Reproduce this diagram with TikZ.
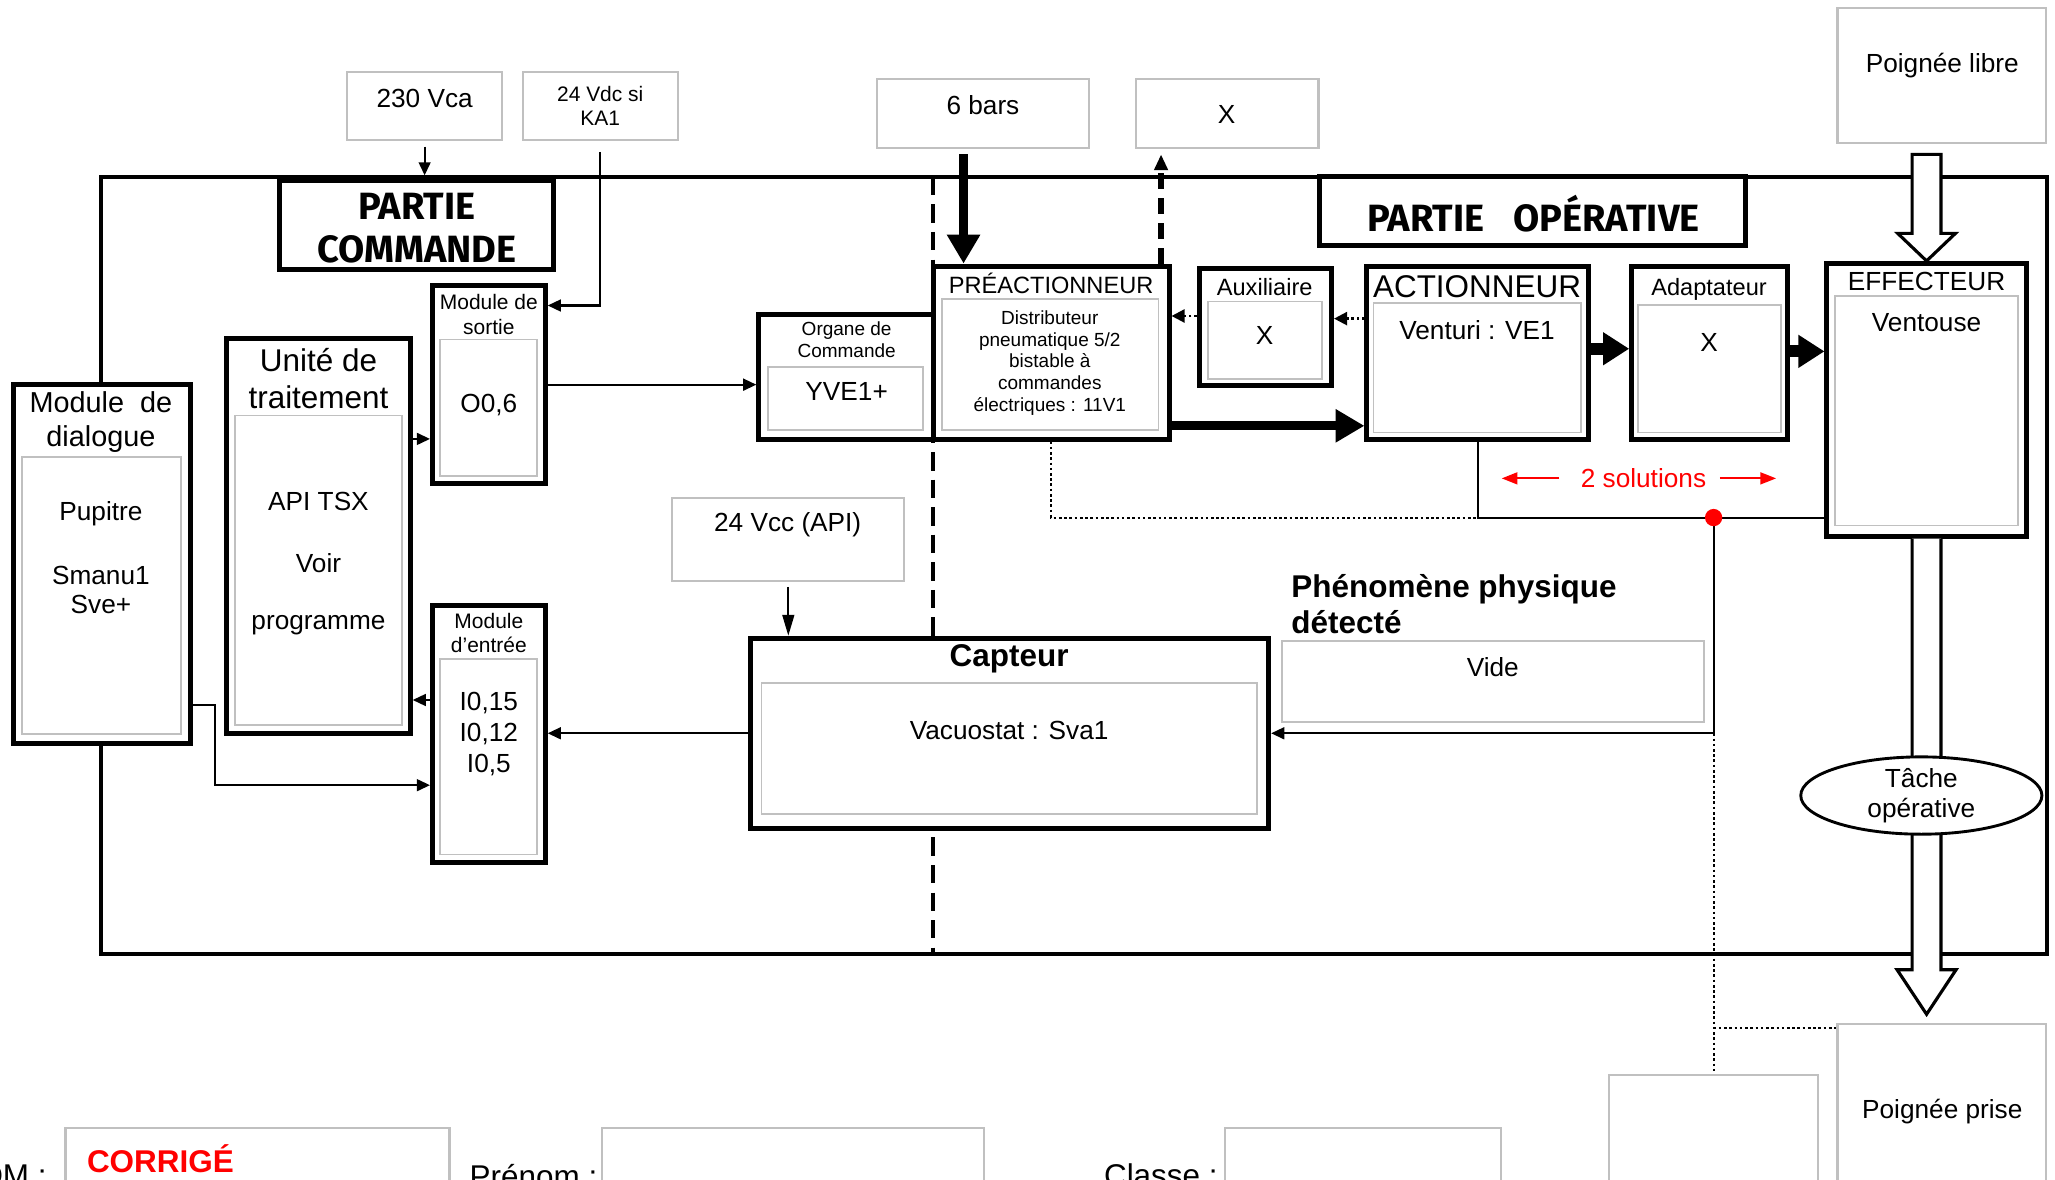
\documentclass[tikz,border=0pt]{standalone}
\usepackage{fontspec}
\setmainfont{Liberation Sans}
\newfontfamily\titlefont{Fira Sans}
\usetikzlibrary{arrows.meta, shapes.geometric, positioning, fit, calc}
\definecolor{boxgray}{RGB}{192,192,192}
\newcommand{\fsz}[2]{\fontsize{#1}{#2}\selectfont}

\begin{document}
\begin{tikzpicture}[x=0.5pt, y=-0.5pt,
    blk/.style={draw, line width=1.9pt, fill=white, inner sep=0pt},
    inbox/.style={draw=boxgray, line width=0.7pt, inner sep=0pt},
    gbox/.style={draw=boxgray, line width=0.8pt, fill=white, inner sep=0pt},
    txt/.style={inner sep=0pt, align=center, font=\fsz{10}{11.5}},
    fmid/.style={font=\fsz{9}{10.5}},
    fsmall/.style={font=\fsz{8}{9.3}},
    ftiny/.style={font=\fsz{7.25}{8.3}},
    ttl/.style={inner sep=0pt, align=center, font=\titlefont\bfseries\fsz{14.5}{16.5}},
    con/.style={line width=0.8pt, -{Triangle[length=5pt, width=4.5pt]}},
    fat/.style={line width=3.5pt, -{Triangle[length=11pt, width=12pt]}},
    fatshort/.style={line width=4.5pt, -{Triangle[length=10pt, width=12pt]}},
    dasharr/.style={line width=2pt, dash pattern=on 6pt off 3.5pt, -{Triangle[length=6pt, width=5pt]}},
    dotarr/.style={line width=0.9pt, dash pattern=on 1pt off 1pt, -{Triangle[length=5pt, width=5pt]}},
    dotline/.style={line width=0.8pt, dash pattern=on 1pt off 1pt},
    redarr/.style={red, line width=0.8pt, -{Triangle[length=6pt, width=4.5pt]}},
    hollow/.style={draw, line width=1.2pt, fill=white}]
\useasboundingbox (0,0) rectangle (1568,900);
\clip (0,0) rectangle (1568,900);

% cadre du systeme
\draw[line width=1.5pt] (77,135) rectangle (1562,728);
\draw[line width=1.7pt, dash pattern=on 7pt off 3.5pt] (712,135) -- (712,728);

% entrees / sorties exterieures
\node[gbox, fit={(265,55) (383,107)}] (vca) {};
\node[txt] at (324,75) {230 Vca};
\node[gbox, fit={(399,55) (517,107)}] (ka) {};
\node[txt, fsmall] at (458,81) {24 Vdc si\\KA1};
\node[gbox, fit={(669,60) (831,113)}] (bars) {};
\node[txt] at (750,80) {6 bars};
\node[gbox, fit={(867,60) (1006,113)}] (xout) {};
\node[txt] at (936,87) {X};
\node[gbox, fit={(1402,6) (1561,109)}] (libre) {};
\node[txt] at (1482,50) {Poignée libre};
\node[gbox, fit={(513,380) (690,443)}] (api) {};
\node[txt] at (601,400) {24 Vcc (API)};
\node[gbox, fit={(978,489) (1300,551)}] (vide) {};
\node[txt] at (1139,509) {Vide};
\node[txt, align=left, anchor=west, font=\bfseries\fsz{12}{14}] at (985,461) {Phénomène physique\\détecté};
\node[gbox, fit={(1402,781) (1561,960)}] (prise) {};
\node[txt] at (1482,848) {Poignée prise};
\node[gbox, fit={(1228,820) (1387,960)}] (vierge) {};

% titres
\node[blk, fit={(213,138) (422,206)}] (pc) {};
\node[ttl] at (318,174) {PARTIE\\COMMANDE};
\node[blk, fit={(1007,135) (1332,187)}] (po) {};
\node[ttl] at (1170,163) {PARTIE\hspace{11pt}OPÉRATIVE};

% partie commande
\node[blk, fit={(10,293) (145,567)}] (dialogue) {};
\node[inbox, fit={(17,349) (138,560)}] {};
\node[txt, font=\fsz{11}{13}] at (77,322) {Module\ \ de\\dialogue};
\node[txt] at (77,392) {Pupitre};
\node[txt, font=\fsz{10}{11}] at (77,450) {Smanu1\\Sve+};

\node[blk, fit={(173,258) (313,560)}] (traitement) {};
\node[inbox, fit={(179,317) (307,553)}] {};
\node[txt, font=\fsz{12}{14}] at (243,289) {Unité de\\traitement};
\node[txt] at (243,383) {API TSX};
\node[txt] at (243,430) {Voir};
\node[txt] at (243,477) {programme};

\node[blk, fit={(330,218) (416,369)}] (sortie) {};
\node[inbox, fit={(336,259) (410,363)}] {};
\node[txt, fsmall] at (373,240) {Module de\\sortie};
\node[txt] at (373,309) {O0,6};

\node[blk, fit={(330,462) (416,658)}] (entree) {};
\node[inbox, fit={(336,503) (410,652)}] {};
\node[txt, fsmall] at (373,483) {Module\\d’entrée};
\node[txt, font=\fsz{10}{11.75}] at (373,560) {I0,15\\I0,12\\I0,5};

\node[blk, fit={(579,240) (712,335)}] (organe) {};
\node[inbox, fit={(586,280) (704,328)}] {};
\node[txt, ftiny] at (646,259) {Organe de\\Commande};
\node[txt] at (646,299) {YVE1+};

\node[blk, fit={(573,487) (968,632)}] (capteur) {};
\node[inbox, fit={(581,521) (959,621)}] {};
\node[txt, font=\bfseries\fsz{12}{14}] at (770,503) {Capteur};
\node[txt] at (770,557) {Vacuostat : Sva1};

% partie operative
\node[blk, fit={(712,203) (892,335)}] (preact) {};
\node[inbox, fit={(719,228) (884,328)}] {};
\node[txt, fmid] at (802,216) {PRÉACTIONNEUR};
\node[txt, font=\fsz{7.25}{8.25}] at (801,277) {Distributeur\\pneumatique 5/2\\bistable à\\commandes\\électriques : 11V1};

\node[blk, fit={(915,205) (1016,294)}] (auxil) {};
\node[inbox, fit={(922,230) (1009,289)}] {};
\node[txt, fmid] at (965,219) {Auxiliaire};
\node[txt] at (965,256) {X};

\node[blk, fit={(1043,203) (1212,335)}] (action) {};
\node[inbox, fit={(1048,231) (1206,330)}] {};
\node[txt, font=\fsz{12}{14}] at (1127,219) {ACTIONNEUR};
\node[txt] at (1127,252) {Venturi : VE1};

\node[blk, fit={(1245,203) (1364,335)}] (adapt) {};
\node[inbox, fit={(1250,233) (1359,330)}] {};
\node[txt, fmid] at (1304,221) {Adaptateur};
\node[txt] at (1304,261) {X};

\node[blk, fit={(1394,201) (1546,409)}] (effect) {};
\node[inbox, fit={(1400,226) (1540,401)}] {};
\node[txt] at (1470,215) {EFFECTEUR};
\node[txt] at (1470,246) {Ventouse};

% fleches creuses (matiere d'oeuvre)
\draw[hollow] (effect.north) -- ++(-22,-21) -- ++(11,0) -- ($(libre.south -| effect.north)+(-11,8)$)
  -- ++(22,0) -- ($(effect.north)+(11,-21)$) -- ++(11,0) -- cycle;
\coordinate (tip) at ($(effect.south)+(0,363)$);
\draw[hollow] ($(effect.south)+(-11,0)$) -- ($(tip)+(-11,-34)$) -- ++(-11.5,0) -- (tip)
  -- ++(22.5,-34) -- ++(-11.5,0) -- ($(effect.south)+(11,0)$);
\node[draw, ellipse, line width=1.1pt, fill=white, minimum width=92pt, minimum height=28pt,
  inner sep=0pt, align=center, font=\fsz{10}{11.5}] (tache) at (1466,607) {Tâche\\opérative};

% liaisons partie commande
\coordinate (cmdIn) at ($(vca.south)+(0,26)$);
\draw[con, shorten <=2pt] (vca.south) -- (cmdIn);
\coordinate (kaIn) at ($(sortie.north east)+(0,17)$);
\draw[con, shorten <=4pt] (ka.south) |- (kaIn);
\coordinate (tsOut) at ($(sortie.south west)+(0,-36)$);
\draw[con] (traitement.east |- tsOut) -- (tsOut);
\coordinate (etIn) at ($(entree.north west)+(0,74)$);
\draw[con] (etIn) -- (traitement.east |- etIn);
\draw[con] (sortie.east) -- (organe.west |- sortie.east);
\coordinate (deOut) at ($(dialogue.south east)+(0,-31)$);
\coordinate (deIn) at ($(entree.north west)+(0,139)$);
\draw[con] (deOut) -- ++(17,0) |- (deIn);
\draw[con] (capteur.west) -- (entree.east |- capteur.west);
\draw[con, -{Triangle[length=8pt, width=4.5pt]}, shorten <=2pt] (api.south) -- (api.south |- capteur.north);

% liaisons partie operative
\coordinate (barsOut) at ($(bars.south west)+(67,0)$);
\draw[fat, shorten <=2pt] (barsOut) -- (barsOut |- preact.north);
\coordinate (pxOut) at ($(preact.north east)+(-8,0)$);
\draw[dasharr, shorten >=2pt] (pxOut) -- (pxOut |- xout.south);
\coordinate (paOut) at ($(preact.south east)+(0,-12)$);
\draw[fat] (paOut) -- (action.west |- paOut);
\coordinate (apOut) at ($(auxil.north west)+(0,38)$);
\draw[dotarr] (apOut) -- (preact.east |- apOut);
\coordinate (aaOut) at ($(action.north west)+(0,42)$);
\draw[dotarr] (aaOut) -- (auxil.east |- aaOut);
\coordinate (adIn) at ($(action.north east)+(0,65)$);
\draw[fatshort] (adIn) -- (adapt.west |- adIn);
\coordinate (efIn) at ($(adapt.north east)+(0,67)$);
\draw[fatshort] (efIn) -- (effect.west |- efIn);

% compte rendu
\coordinate (fb) at ($(action.south)+(0,58)$);
\draw[line width=0.8pt] (action.south) -- (fb) -- (fb -| effect.west);
\draw[dotline] (preact.south) |- (fb);
\coordinate (rd) at ($(fb)+(180,0)$);
\draw[con] (rd) |- (capteur.east);
\fill[red] (rd) circle (3.3pt);
\draw[dotline] (rd |- capteur.east) -- (rd |- vierge.north);
\coordinate (pq) at ($(prise.north west)+(0,4)$);
\draw[dotline] (rd |- pq) -- (pq);

\node[txt, text=red] (sol) at (1254,365) {2 solutions};
\coordinate (solL) at ($(sol.west)+(-60,0)$);
\coordinate (solR) at ($(sol.east)+(53,0)$);
\draw[redarr, shorten <=8pt] (sol.west) -- (solL);
\draw[redarr, shorten <=5pt] (sol.east) -- (solR);

% cartouche
\node[gbox, fit={(50,861) (343,960)}] (nom) {};
\node[gbox, fit={(459,861) (751,960)}] (prenom) {};
\node[gbox, fit={(935,861) (1145,960)}] (classe) {};
\node[txt, anchor=east, font=\fsz{12}{14}] at (36,897) {NOM :};
\node[txt, anchor=west, font=\fsz{12}{14}] at (358,897) {Prénom :};
\node[txt, anchor=west, font=\fsz{12}{14}] at (842,897) {Classe :};
\node[txt, anchor=west, text=red, font=\bfseries\fsz{12}{14}] at (66,884) {CORRIGÉ};
\end{tikzpicture}
\end{document}
